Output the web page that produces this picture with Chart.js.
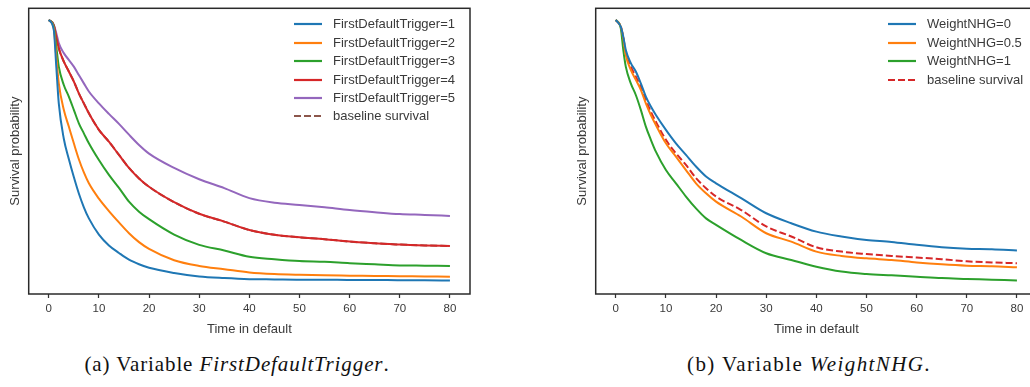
<!DOCTYPE html>
<html>
<head>
<meta charset="utf-8">
<script src="https://cdn.jsdelivr.net/npm/chart.js@4.4.1/dist/chart.umd.min.js"></script>
<style>
  html, body { margin:0; padding:0; background:#fff; width:1030px; height:387px; overflow:hidden; }
  #wrap { position:relative; width:1030px; height:387px; overflow:hidden; }
  canvas { position:absolute; top:0; }
  .leg { position:absolute; font-family:"Liberation Sans", Arial, sans-serif; font-size:13px; color:#3a3a3a; }
  .row { position:absolute; height:18px; white-space:nowrap; }
  .row svg { position:absolute; top:0; }
  .row span { position:absolute; top:0; line-height:18px; }
  .cap { position:absolute; top:352px; font-family:"Liberation Serif", "DejaVu Serif", serif; font-size:21px; letter-spacing:0.9px; color:#111; white-space:nowrap; transform:translateX(-50%); }
</style>
</head>
<body>
<div id="wrap">
  <canvas id="cA" width="480" height="340" style="left:0px"></canvas>
  <canvas id="cB" width="480" height="340" style="left:567px"></canvas>
  <div id="legA" class="leg"></div>
  <div id="legB" class="leg"></div>
  <div class="cap" style="left:237px">(a) Variable <i>FirstDefaultTrigger</i>.</div>
  <div class="cap" style="left:809px; letter-spacing:1.4px">(b) Variable <i>WeightNHG</i>.</div>
</div>
<script>
// ---- data ----
const timeInDefault = [0,1,1.5,2,3,4,5,6,7,8,10,12,14,16,18,20,25,30,35,40,45,50,55,60,65,70,75,80];
const xTickValues = [0,10,20,30,40,50,60,70,80];

const labelsA = ["FirstDefaultTrigger=1","FirstDefaultTrigger=2","FirstDefaultTrigger=3","FirstDefaultTrigger=4","FirstDefaultTrigger=5","baseline survival"];
const fdt1 = [1.000,0.963,0.827,0.691,0.560,0.485,0.418,0.357,0.306,0.265,0.205,0.165,0.137,0.112,0.095,0.082,0.063,0.050,0.044,0.040,0.039,0.038,0.038,0.037,0.037,0.036,0.036,0.035];
const fdt2 = [1.000,0.969,0.864,0.765,0.667,0.605,0.543,0.484,0.435,0.395,0.338,0.292,0.250,0.210,0.177,0.152,0.110,0.089,0.077,0.065,0.059,0.056,0.054,0.053,0.052,0.051,0.050,0.049];
const fdt3 = [1.000,0.975,0.901,0.827,0.759,0.716,0.667,0.617,0.580,0.543,0.481,0.426,0.378,0.327,0.290,0.262,0.205,0.167,0.146,0.123,0.114,0.107,0.104,0.099,0.095,0.091,0.090,0.089];
const fdt4 = [1.000,0.981,0.938,0.895,0.846,0.809,0.772,0.728,0.691,0.654,0.593,0.549,0.500,0.452,0.413,0.382,0.325,0.282,0.253,0.222,0.204,0.195,0.188,0.179,0.173,0.168,0.165,0.163];
const fdt5 = [1.000,0.981,0.951,0.914,0.877,0.852,0.827,0.796,0.765,0.735,0.691,0.652,0.615,0.575,0.537,0.505,0.452,0.410,0.377,0.340,0.323,0.315,0.306,0.296,0.288,0.281,0.278,0.274];
const baselineA = [1.000,0.981,0.938,0.895,0.846,0.809,0.772,0.728,0.691,0.654,0.593,0.549,0.500,0.452,0.413,0.382,0.325,0.282,0.253,0.222,0.204,0.195,0.188,0.179,0.173,0.168,0.165,0.163];

const labelsB = ["WeightNHG=0","WeightNHG=0.5","WeightNHG=1","baseline survival"];
const nhg0  = [1.000,0.975,0.938,0.889,0.840,0.809,0.765,0.716,0.679,0.648,0.593,0.543,0.500,0.457,0.420,0.395,0.340,0.284,0.247,0.216,0.198,0.185,0.178,0.167,0.158,0.153,0.151,0.146];
const nhg05 = [1.000,0.975,0.932,0.870,0.815,0.778,0.741,0.691,0.648,0.611,0.543,0.494,0.444,0.395,0.358,0.327,0.272,0.210,0.179,0.142,0.126,0.117,0.111,0.102,0.095,0.090,0.088,0.084];
const nhg1  = [1.000,0.969,0.889,0.827,0.765,0.722,0.667,0.605,0.556,0.512,0.444,0.395,0.346,0.302,0.265,0.241,0.185,0.136,0.111,0.086,0.068,0.059,0.054,0.049,0.044,0.041,0.038,0.035];
const baselineB = [1.000,0.975,0.936,0.877,0.827,0.790,0.751,0.704,0.660,0.623,0.556,0.506,0.463,0.414,0.377,0.346,0.296,0.235,0.198,0.158,0.142,0.133,0.126,0.120,0.114,0.106,0.102,0.099];

// ---- styling ----
const C = { blue:"#1f77b4", orange:"#ff7f0e", green:"#2ca02c", red:"#d62728", purple:"#9467bd", brown:"#8c564b" };
const TXT = "#3a3a3a";
const FONT = "'Liberation Sans', Arial, sans-serif";

function pts(arr){ return timeInDefault.map((t,i)=>({x:t, y:arr[i]})); }
function ds(label, arr, color, dashed){
  return { label, data: pts(arr), borderColor: color, backgroundColor: color, borderWidth: 2,
           borderDash: dashed ? [7,3] : [], pointRadius: 0, fill:false, cubicInterpolationMode:'monotone' };
}

const framePlugin = {
  id:'frame',
  afterDraw(chart){
    const a = chart.chartArea, ctx = chart.ctx;
    ctx.save();
    ctx.strokeStyle = "#2a2a2a"; ctx.lineWidth = 1.5;
    ctx.strokeRect(a.left, a.top, a.right - a.left, a.bottom - a.top);
    ctx.restore();
  }
};

function makeChart(id, datasets){
  return new Chart(document.getElementById(id), {
    type:'line',
    data:{ datasets },
    plugins:[framePlugin],
    options:{
      responsive:false, animation:false, devicePixelRatio:1,
      layout:{ padding:{ top:8.3, right:10, left:0, bottom:0 } },
      plugins:{ legend:{display:false}, tooltip:{enabled:false} },
      scales:{
        x:{ type:'linear', min:-4, max:84,
            afterBuildTicks(s){ s.ticks = xTickValues.map(v=>({value:v})); },
            afterFit(s){ s.height = 46; },
            grid:{ display:true, drawOnChartArea:false, drawTicks:true, tickLength:4, tickWidth:1.25, tickColor:"#333" },
            border:{ display:false },
            ticks:{ color:TXT, font:{family:FONT, size:11.5}, padding:3.5, maxRotation:0 },
            title:{ display:true, text:"Time in default", color:TXT, font:{family:FONT, size:13}, padding:{top:0, bottom:2.5} } },
        y:{ type:'linear', min:-0.015, max:1.043,
            afterFit(s){ s.width = 28.7; },
            grid:{ display:false }, border:{ display:false },
            ticks:{ display:false },
            title:{ display:true, text:"Survival probability", color:TXT, font:{family:FONT, size:13}, padding:{top:7.5, bottom:0} } }
      }
    }
  });
}

makeChart('cA', [
  ds(labelsA[0], fdt1, C.blue),
  ds(labelsA[1], fdt2, C.orange),
  ds(labelsA[2], fdt3, C.green),
  ds(labelsA[3], fdt4, C.red),
  ds(labelsA[4], fdt5, C.purple),
  ds(labelsA[5], baselineA, C.brown, true)
]);
makeChart('cB', [
  ds(labelsB[0], nhg0, C.blue),
  ds(labelsB[1], nhg05, C.orange),
  ds(labelsB[2], nhg1, C.green),
  ds(labelsB[3], baselineB, C.red, true)
]);

function buildLegend(el, labels, colors, dashedIdx, hx, tx){
  labels.forEach((lab,i)=>{
    const row = document.createElement('div');
    row.className = 'row';
    row.style.top = (24.3 + 18.4*i - 9) + 'px';
    row.style.left = '0px';
    const dash = i === dashedIdx ? 'stroke-dasharray="7,3"' : '';
    row.innerHTML = `<svg width="30" height="18" style="left:${hx}px"><line x1="0" y1="9" x2="28" y2="9" stroke="${colors[i]}" stroke-width="2.2" ${dash}/></svg><span style="left:${tx}px">${lab}</span>`;
    el.appendChild(row);
  });
}
buildLegend(document.getElementById('legA'), labelsA, [C.blue,C.orange,C.green,C.red,C.purple,C.brown], 5, 294, 333);
buildLegend(document.getElementById('legB'), labelsB, [C.blue,C.orange,C.green,C.red], 3, 888, 927);
</script>
</body>
</html>
